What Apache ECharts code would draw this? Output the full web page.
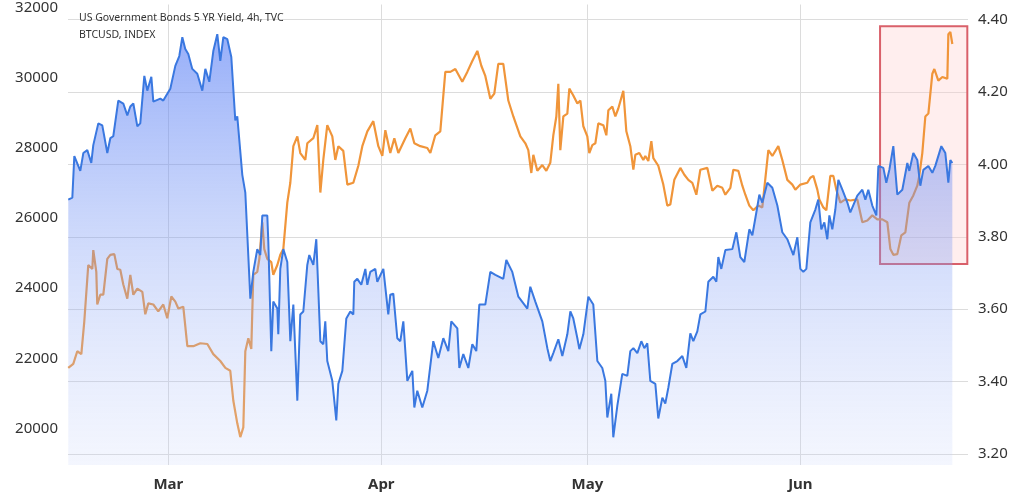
<!DOCTYPE html>
<html><head><meta charset="utf-8">
<script src="https://cdn.jsdelivr.net/npm/echarts@6/dist/echarts.min.js"></script>
<style>html,body{margin:0;padding:0;background:#fff}#c{width:1024px;height:502px}</style>
</head><body><div id="c"></div>
<script>
// x = days since 1 Mar 2023
const monthLabels = ['Mar','Apr','May','Jun'];
const monthDays = [0,31,61,92];
const btcTicks = [20000,22000,24000,26000,28000,30000,32000];
const yieldTicks = [3.2,3.4,3.6,3.8,4.0,4.2,4.4];
const btcDays = [-14.56,-13.97,-13.68,-12.81,-12.37,-11.79,-11.21,-10.92,-10.19,-9.61,-8.88,-8.44,-8.01,-7.28,-6.55,-5.97,-5.53,-5.09,-4.51,-4.08,-3.49,-3.06,-2.47,-2.18,-1.16,-0.73,0.29,1.02,1.6,2.04,2.47,2.91,3.49,4.22,4.95,5.39,5.97,6.55,7.13,7.57,8.01,8.59,9.17,9.75,10.04,10.77,11.21,11.94,12.37,12.95,13.39,13.68,14.41,14.56,14.99,15.28,15.87,16.01,16.3,16.74,17.32,17.76,18.2,18.78,19.21,19.65,20.23,20.52,21.11,21.54,22.13,22.56,22.85,23.14,23.87,24.45,24.75,25.33,25.91,26.49,26.93,27.07,27.51,28.09,28.68,28.97,29.4,30.13,30.42,31.3,32.02,32.31,32.75,33.33,33.77,34.21,34.79,35.52,35.81,36.24,36.97,37.7,38.57,39.3,40.03,40.76,41.19,42.07,42.36,42.94,43.67,44.25,44.83,45.27,46.14,46.87,47.6,48.76,49.2,50.07,50.95,51.24,52.26,52.69,53.42,54.44,55.17,55.6,56.04,56.77,57.35,58.08,58.52,58.95,59.54,59.83,60.41,61.14,61.86,62.45,63.17,63.61,63.9,64.48,64.77,65.36,66.08,66.81,67.25,67.69,68.27,68.85,69.29,69.72,70.16,70.89,71.32,71.91,72.34,72.78,73.36,74.09,74.82,75.4,75.98,76.42,77.0,77.44,78.17,78.6,79.33,79.77,80.06,80.49,81.08,82.1,82.68,83.26,83.84,84.57,85.01,85.59,86.03,86.46,87.19,87.92,88.65,89.37,90.1,90.98,91.56,92.0,92.43,92.87,93.45,94.18,94.61,95.05,95.49,95.92,96.22,96.65,97.09,97.53,98.11,98.84,99.27,100.29,101.02,101.46,101.89,102.47,103.06,103.35,104.08,104.51,104.95,105.53,106.11,106.84,107.57,107.86,108.44,109.02,109.46,109.9,110.63,111.21,111.64,112.52,113.1,113.54,113.83,114.12];
const btcValues = [26524,26580,27766,27342,27851,27935,27568,28076,28697,28641,27851,28274,28330,29347,29262,28923,29177,29262,28613,28697,30052,29629,30024,29318,29403,29347,29686,30335,30617,31153,30815,30674,30250,30109,29629,30250,29883,30758,31238,30476,31153,31097,30589,28782,28895,27230,26721,23701,24463,25112,24943,26072,26072,25310,22205,23616,23418,22685,24548,25112,24745,22487,23531,20793,23249,23334,24661,24943,24661,25394,22487,22402,23051,21922,21358,20228,21273,21640,23136,23334,23249,24181,24265,24096,24548,24096,24463,24548,24181,24548,23249,23814,23842,22572,22487,23051,21358,21640,20596,21075,20596,21075,22487,22007,22572,22205,23051,22854,21724,22120,21724,22402,22205,23531,23531,24463,24378,24265,24802,24463,23757,23701,23418,24040,23616,23051,22289,21922,22148,22543,22063,22685,23334,23136,22572,22261,22685,23757,23531,21922,21724,21358,20313,20991,19749,20652,21555,21499,22205,22289,22148,22487,22289,22430,21358,21273,20285,20878,20708,21160,21838,21922,22063,21724,22713,22487,22769,23249,23334,24181,24322,24181,24886,24548,25084,25112,25592,24886,24745,25677,25508,26157,26665,26439,27004,26863,26354,25592,25394,24943,25451,24548,24463,24548,25874,26241,26524,25677,25874,25394,26072,25677,26241,27088,26806,26439,26157,26637,26806,26524,26806,26354,26072,27484,27427,27004,27371,28048,26665,26806,27568,27342,27851,27653,26919,27371,27484,27286,27484,28048,27851,27004,27653,27568];
const yieldDays = [-14.56,-13.83,-13.25,-12.66,-12.23,-11.65,-11.06,-10.92,-10.48,-10.34,-9.9,-9.46,-8.88,-8.44,-7.86,-7.42,-6.99,-6.55,-5.97,-5.53,-5.09,-4.51,-3.78,-3.35,-2.91,-2.18,-1.46,-0.73,-0.15,0.44,1.02,1.46,2.18,2.77,3.64,4.66,5.68,6.55,7.57,8.3,9.02,9.46,10.04,10.48,10.92,11.21,11.65,12.08,12.37,12.95,13.25,13.68,13.97,14.41,14.99,15.28,15.87,16.3,16.74,17.32,17.76,18.2,18.78,19.21,19.94,20.23,21.11,21.69,22.13,22.56,23.14,23.87,24.31,24.75,25.47,26.06,26.93,27.66,28.24,28.97,29.84,30.57,31.15,31.59,32.31,32.9,33.48,34.5,35.23,35.81,36.68,37.7,38.14,38.86,39.59,40.32,41.05,41.78,42.79,43.52,44.25,44.98,45.56,46.14,46.87,47.45,48.03,48.76,49.49,50.22,51.24,51.97,52.4,52.84,53.13,53.71,54.44,55.02,55.6,56.04,56.48,56.77,57.06,57.5,58.08,58.37,58.95,59.54,59.98,60.41,60.99,61.28,61.72,62.16,62.59,63.32,63.76,64.05,64.63,65.07,65.5,66.23,66.67,67.25,67.69,67.98,68.56,69.14,69.43,69.87,70.31,70.6,71.32,72.05,72.63,73.07,73.65,74.53,75.11,75.69,76.27,76.86,77.44,78.46,79.19,79.91,80.64,81.08,81.81,82.24,82.97,83.55,83.99,84.57,85.15,85.88,86.46,87.34,87.92,88.79,89.37,90.1,90.83,91.27,92.0,93.01,93.45,93.89,94.47,94.76,95.34,95.78,96.36,96.8,97.24,97.82,98.54,99.27,100.29,101.02,101.75,102.47,103.2,103.93,104.66,105.1,105.53,106.11,106.7,107.28,107.86,108.44,109.02,109.31,109.75,110.19,110.63,111.21,111.5,112.08,112.67,113.39,113.54,113.83,114.12];
const yieldValues = [3.438,3.449,3.484,3.476,3.566,3.722,3.711,3.763,3.703,3.613,3.64,3.64,3.739,3.75,3.752,3.711,3.709,3.668,3.629,3.695,3.64,3.657,3.648,3.586,3.616,3.613,3.594,3.613,3.575,3.635,3.621,3.602,3.607,3.498,3.498,3.506,3.504,3.476,3.457,3.438,3.43,3.348,3.285,3.247,3.274,3.484,3.52,3.49,3.695,3.703,3.739,3.84,3.766,3.739,3.73,3.695,3.722,3.75,3.766,3.894,3.949,4.05,4.077,4.031,4.012,4.058,4.072,4.108,3.922,4.012,4.108,4.077,4.012,4.05,4.037,3.944,3.949,3.996,4.05,4.091,4.119,4.05,4.023,4.094,4.031,4.072,4.031,4.072,4.099,4.058,4.05,4.045,4.031,4.08,4.091,4.255,4.255,4.263,4.228,4.255,4.285,4.313,4.272,4.244,4.181,4.195,4.277,4.277,4.176,4.132,4.077,4.058,4.039,3.976,4.026,3.982,3.998,3.982,4.004,4.08,4.132,4.222,4.039,4.132,4.14,4.209,4.19,4.168,4.176,4.105,4.077,4.031,4.053,4.058,4.113,4.108,4.08,4.149,4.159,4.132,4.154,4.203,4.091,4.05,3.985,4.026,4.031,4.012,4.023,4.009,4.064,4.017,3.996,3.944,3.886,3.889,3.957,3.99,3.971,3.957,3.949,3.916,3.985,3.99,3.927,3.941,3.935,3.916,3.935,3.985,3.982,3.941,3.916,3.886,3.873,3.886,3.881,4.039,4.023,4.05,4.012,3.957,3.944,3.93,3.944,3.949,3.963,3.968,3.93,3.903,3.881,3.873,3.968,3.968,3.93,3.894,3.903,3.9,3.903,3.84,3.845,3.859,3.848,3.848,3.84,3.766,3.75,3.752,3.804,3.812,3.894,3.914,3.941,3.968,4.031,4.132,4.14,4.25,4.263,4.231,4.241,4.236,4.359,4.365,4.332];
const highlight = {from:103.6, to:116.3, low:3.725, high:4.381};

const btc = btcDays.map((d,i)=>[d,btcValues[i]]);
const yld = yieldDays.map((d,i)=>[d,yieldValues[i]]);
const chart = echarts.init(document.getElementById('c'));
chart.setOption({
  animation:false,
  grid:{left:68,right:56,top:0,bottom:37},
  title:{text:'US Government Bonds 5 YR Yield, 4h, TVC\nBTCUSD, INDEX',left:74,top:5,
    textStyle:{fontSize:10.5,fontWeight:'normal',color:'#333',lineHeight:17,fontFamily:'Noto Sans'}},
  xAxis:{type:'value',min:-14.6,max:116.4,
    axisLine:{show:false},
    splitLine:{show:true,lineStyle:{color:'#dcdcdc'}},
    axisLabel:{customValues:monthDays,formatter:v=>monthLabels[monthDays.indexOf(v)]||'',
      fontSize:15,fontWeight:'bold',color:'#333',margin:12,fontFamily:'Noto Sans'},
    axisTick:{show:false,customValues:monthDays}},
  yAxis:[
    {type:'value',position:'left',min:18958,max:32085,
      axisLine:{show:false},axisTick:{show:false},splitLine:{show:false},
      axisLabel:{customValues:btcTicks,formatter:v=>String(v),fontSize:15,color:'#333',margin:10,fontFamily:'Noto Sans'}},
    {type:'value',position:'right',min:3.17,max:4.441,
      axisLine:{show:false},axisTick:{show:false,customValues:yieldTicks},
      splitLine:{show:true,lineStyle:{color:'#dcdcdc'}},
      axisLabel:{customValues:yieldTicks,formatter:v=>v.toFixed(2),fontSize:15,color:'#333',margin:10,fontFamily:'Noto Sans'}}
  ],
  series:[
    {type:'line',yAxisIndex:1,data:yld,showSymbol:false,z:2,
      lineStyle:{color:'#f0953a',width:2.2},
      markArea:{silent:true,itemStyle:{color:'rgba(255,205,205,0.35)',borderColor:'#d9606a',borderWidth:2},
        data:[[{xAxis:highlight.from,yAxis:highlight.high},{xAxis:highlight.to,yAxis:highlight.low}]]}},
    {type:'line',yAxisIndex:0,data:btc,showSymbol:false,z:3,
      lineStyle:{color:'#3a78e0',width:2},
      areaStyle:{color:new echarts.graphic.LinearGradient(0,0,0,1,[
        {offset:0,color:'rgba(80,120,245,0.85)'},{offset:0.5,color:'rgba(125,155,245,0.5)'},{offset:1,color:'rgba(200,212,250,0.3)'}]),
        origin:'start'}}
  ]
});
</script></body></html>
